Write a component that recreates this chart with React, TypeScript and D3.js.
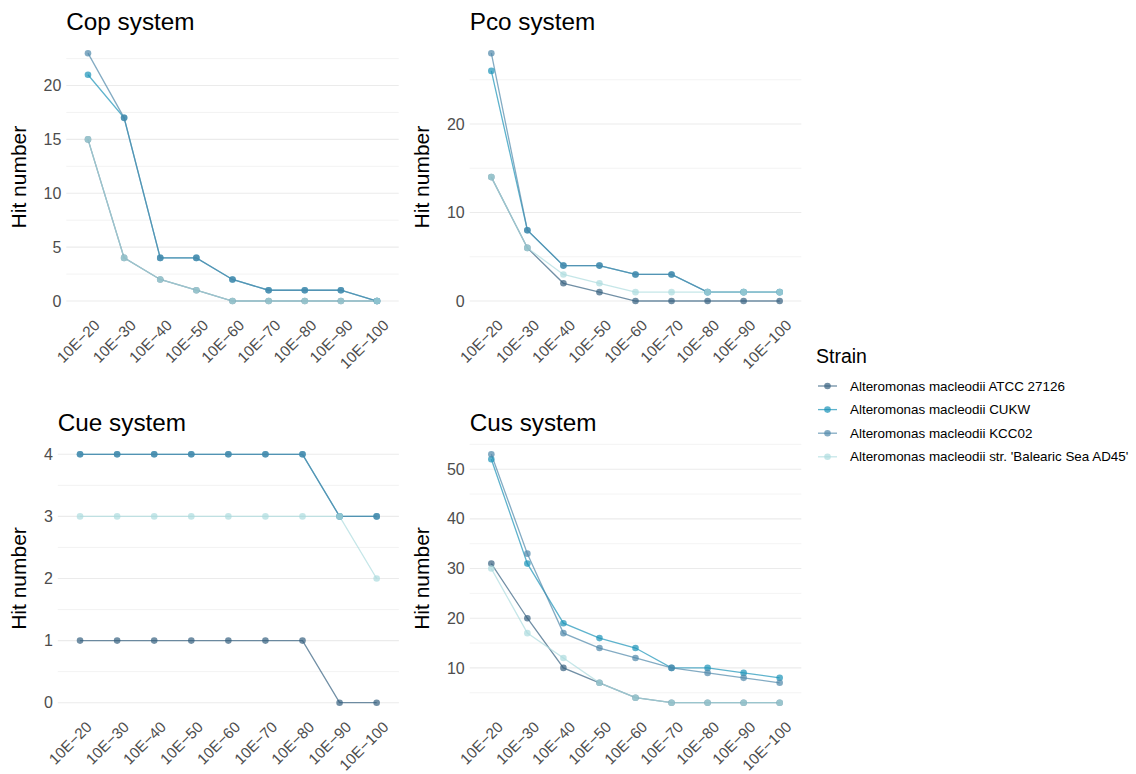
import React from "react";
import * as d3 from "d3";

// E-value thresholds on the x axis
const thresholds = ["10E−20", "10E−30", "10E−40", "10E−50", "10E−60", "10E−70", "10E−80", "10E−90", "10E−100"];

const strains = [
  "Alteromonas macleodii ATCC 27126",
  "Alteromonas macleodii CUKW",
  "Alteromonas macleodii KCC02",
  "Alteromonas macleodii str. 'Balearic Sea AD45'",
];

const strainColors = ["#34607f", "#1a93b8", "#4f88aa", "#acdbde"];

// Hit numbers per copper-resistance system, one array per strain
const copATCC = [15, 4, 2, 1, 0, 0, 0, 0, 0];
const copCUKW = [21, 17, 4, 4, 2, 1, 1, 1, 0];
const copKCC02 = [23, 17, 4, 4, 2, 1, 1, 1, 0];
const copAD45 = [15, 4, 2, 1, 0, 0, 0, 0, 0];

const pcoATCC = [14, 6, 2, 1, 0, 0, 0, 0, 0];
const pcoCUKW = [26, 8, 4, 4, 3, 3, 1, 1, 1];
const pcoKCC02 = [28, 8, 4, 4, 3, 3, 1, 1, 1];
const pcoAD45 = [14, 6, 3, 2, 1, 1, 1, 1, 1];

const cueATCC = [1, 1, 1, 1, 1, 1, 1, 0, 0];
const cueCUKW = [4, 4, 4, 4, 4, 4, 4, 3, 3];
const cueKCC02 = [4, 4, 4, 4, 4, 4, 4, 3, 3];
const cueAD45 = [3, 3, 3, 3, 3, 3, 3, 3, 2];

const cusATCC = [31, 20, 10, 7, 4, 3, 3, 3, 3];
const cusCUKW = [52, 31, 19, 16, 14, 10, 10, 9, 8];
const cusKCC02 = [53, 33, 17, 14, 12, 10, 9, 8, 7];
const cusAD45 = [30, 17, 12, 7, 4, 3, 3, 3, 3];

const FONT = "'Liberation Sans', Arial, Helvetica, sans-serif";
const ALPHA = 0.7;

type PanelSpec = {
  title: string;
  series: number[][];
  left: number;
  right: number;
  top: number;
  bottom: number;
  tickCount: number;
  axisTitleX: number;
  titleY: number;
};

const panels: PanelSpec[] = [
  { title: "Cop system", series: [copATCC, copCUKW, copKCC02, copAD45], left: 66.3, right: 398.7, top: 40.8, bottom: 313.4, tickCount: 5, axisTitleX: 19, titleY: 30 },
  { title: "Pco system", series: [pcoATCC, pcoCUKW, pcoKCC02, pcoAD45], left: 469.7, right: 801.3, top: 40.8, bottom: 313.4, tickCount: 3, axisTitleX: 422, titleY: 30 },
  { title: "Cue system", series: [cueATCC, cueCUKW, cueKCC02, cueAD45], left: 57.8, right: 398.9, top: 441.9, bottom: 715.1, tickCount: 5, axisTitleX: 19, titleY: 431 },
  { title: "Cus system", series: [cusATCC, cusCUKW, cusKCC02, cusAD45], left: 469.7, right: 801.3, top: 441.9, bottom: 715.1, tickCount: 5, axisTitleX: 422, titleY: 431 },
];

function Panel({ p }: { p: PanelSpec }) {
  const all = p.series.flat();
  const lo = d3.min(all) as number;
  const hi = d3.max(all) as number;
  const pad = (hi - lo) * 0.05;
  const y = d3.scaleLinear().domain([lo - pad, hi + pad]).range([p.bottom, p.top]);
  const x = d3.scalePoint<string>().domain(thresholds).range([p.left, p.right]).padding(0.6);

  const major = y.ticks(p.tickCount);
  const step = major.length > 1 ? major[1] - major[0] : 1;
  const minor: number[] = [];
  for (let v = major[0] - step / 2; v <= hi + pad; v += step) {
    if (v >= lo - pad && !major.some((m) => Math.abs(m - v) < 1e-9)) minor.push(v);
  }

  const line = d3
    .line<number>()
    .x((_, i) => x(thresholds[i]) as number)
    .y((d) => y(d));

  const midY = (p.top + p.bottom) / 2;

  return (
    <g>
      <text x={p.left} y={p.titleY} fontFamily={FONT} fontSize={24.3} fill="#000">
        {p.title}
      </text>
      {minor.map((v) => (
        <line key={"mi" + v} x1={p.left} x2={p.right} y1={y(v)} y2={y(v)} stroke="#ebebeb" strokeWidth={0.6} />
      ))}
      {major.map((v) => (
        <line key={"ma" + v} x1={p.left} x2={p.right} y1={y(v)} y2={y(v)} stroke="#ebebeb" strokeWidth={1.1} />
      ))}
      {major.map((v) => (
        <text key={"yl" + v} x={p.left - 5} y={y(v)} dy="0.35em" textAnchor="end" fontFamily={FONT} fontSize={16} fill="#4d4d4d">
          {v}
        </text>
      ))}
      {thresholds.map((t) => (
        <text
          key={"xl" + t}
          transform={`translate(${(x(t) as number) + 5},${p.bottom + 5}) rotate(-45)`}
          dy="0.72em"
          textAnchor="end"
          fontFamily={FONT}
          fontSize={15.3}
          fill="#4d4d4d"
        >
          {t}
        </text>
      ))}
      <text
        transform={`translate(${p.axisTitleX},${midY}) rotate(-90)`}
        dy="0.35em"
        textAnchor="middle"
        fontFamily={FONT}
        fontSize={21}
        fill="#000"
      >
        Hit number
      </text>
      {p.series.map((s, i) => (
        <path key={"ln" + i} d={line(s) as string} fill="none" stroke={strainColors[i]} strokeOpacity={ALPHA} strokeWidth={1.3} />
      ))}
      {p.series.map((s, i) =>
        s.map((v, j) => (
          <circle key={"pt" + i + "-" + j} cx={x(thresholds[j]) as number} cy={y(v)} r={3.3} fill={strainColors[i]} fillOpacity={ALPHA} />
        ))
      )}
    </g>
  );
}

function Legend() {
  const rowY = (i: number) => 386 + i * 23.6;
  return (
    <g>
      <text x={816} y={363} fontFamily={FONT} fontSize={19.5} fill="#000">
        Strain
      </text>
      {strains.map((s, i) => (
        <g key={s}>
          <line x1={818} x2={837} y1={rowY(i)} y2={rowY(i)} stroke={strainColors[i]} strokeOpacity={ALPHA} strokeWidth={1.3} />
          <circle cx={827.5} cy={rowY(i)} r={3.3} fill={strainColors[i]} fillOpacity={ALPHA} />
          <text x={850} y={rowY(i)} dy="0.35em" fontFamily={FONT} fontSize={13.4} fill="#000">
            {s}
          </text>
        </g>
      ))}
    </g>
  );
}

export default function App() {
  return (
    <svg width={1136} height={774} style={{ position: "absolute", left: 0, top: 0, background: "#fff" }}>
      <rect width={1136} height={774} fill="#fff" />
      {panels.map((p) => (
        <Panel key={p.title} p={p} />
      ))}
      <Legend />
    </svg>
  );
}
